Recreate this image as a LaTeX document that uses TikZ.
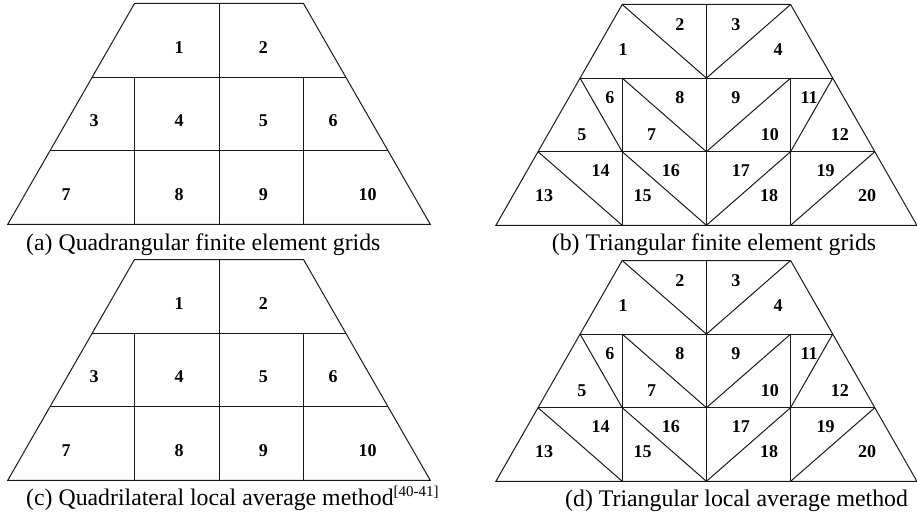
\documentclass[tikz,border=0pt]{standalone}
\usepackage{fontspec}
\setmainfont{Liberation Serif}
\tikzset{
  mesh/.style={line width=1pt, line join=miter, draw=black!90},
  num/.style={font=\bfseries\fontsize{18}{21}\selectfont, inner sep=0pt},
  capt/.style={font=\fontsize{23.8}{28}\selectfont, anchor=base west, inner sep=0pt}
}
% #1 prefix, #2 centre x, #3 top y, #4 spacing
\newcommand\mkmesh[4]{%
  \foreach \k in {0,1,2,3}{
    \coordinate (#1L\k) at ({#2-#4*(1+0.5*\k)},{#3+73.6*\k});
    \coordinate (#1A\k) at ({#2-#4},{#3+73.6*\k});
    \coordinate (#1B\k) at ({#2},{#3+73.6*\k});
    \coordinate (#1C\k) at ({#2+#4},{#3+73.6*\k});
    \coordinate (#1R\k) at ({#2+#4*(1+0.5*\k)},{#3+73.6*\k});
  }
  \draw[mesh] (#1L0) -- (#1R0) -- (#1R3) -- (#1L3) -- cycle;
  \draw[mesh] (#1L1) -- (#1R1) (#1L2) -- (#1R2) (#1B0) -- (#1B3)
              (#1A1) -- (#1A3) (#1C1) -- (#1C3);
}
\newcommand\trilines[1]{%
  \draw[mesh] (#1A0) -- (#1B1) -- (#1C0)
              (#1L1) -- (#1A2) (#1A1) -- (#1B2) -- (#1C1) (#1R1) -- (#1C2)
              (#1L2) -- (#1A3) (#1A2) -- (#1B3) -- (#1C2) (#1R2) -- (#1C3);
}
\newcommand\quadlabels[3]{%
  \foreach \n/\dx/\dy in {1/-39.8/44,2/44.3/44,3/-125/117.2,4/-40/117.2,5/44.3/117.2,6/114/117.2,7/-153/191.2,8/-40/191.2,9/44.3/191.2,10/148.7/191.2}
    \node[num] (#1n\n) at ({#2+\dx},{#3+\dy}) {\n};
}
\newcommand\trilabels[3]{%
  \foreach \n/\dx/\dy in {1/-83.2/44.8,2/-26.5/19.8,3/29.5/19.8,4/71.8/44.8,
      6/-96.5/93.2,8/-26.5/93.2,9/29.5/93.2,11/102.8/93.2,
      5/-124.5/130.5,7/-54.8/130.5,10/63.5/130.5,12/133.5/130.5,
      14/-105.8/166.5,16/-35.5/166.5,17/34.5/166.5,19/119.2/166.5,
      13/-162.2/191.2,15/-63.8/191.2,18/62.8/191.2,20/160.8/191.2}
    \node[num] (#1n\n) at ({#2+\dx},{#3+\dy}) {\n};
}
\begin{document}
\begin{tikzpicture}[x=1pt,y=-1pt]
\useasboundingbox (0,0) rectangle (917,513);
% (a)
\mkmesh{a}{219}{3.5}{84.5}
\quadlabels{a}{219}{3.5}
\node[capt] (capa) at (26,250) {(a) Quadrangular finite element grids};
% (b)
\mkmesh{b}{706.4}{4.5}{84.2}
\trilines{b}
\trilabels{b}{706.4}{4.5}
\node[capt] (capb) at (551.7,250) {(b) Triangular finite element grids};
% (c)
\mkmesh{c}{219}{259.5}{84.5}
\quadlabels{c}{219}{259.5}
\node[capt] (capc) at (26,505) {(c) Quadrilateral local average method\raisebox{9pt}{\fontsize{15}{18}\selectfont[40-41]}};
% (d)
\mkmesh{d}{706.4}{260.5}{84.2}
\trilines{d}
\trilabels{d}{706.4}{260.5}
\node[capt] (capd) at (565,506) {(d) Triangular local average method};
\end{tikzpicture}
\end{document}
